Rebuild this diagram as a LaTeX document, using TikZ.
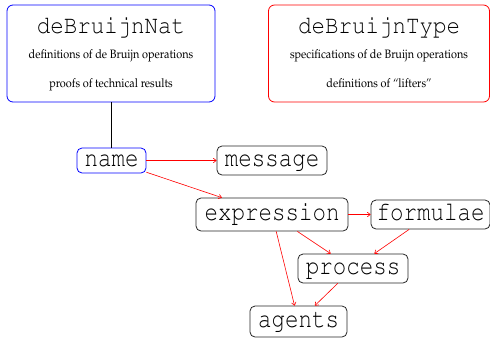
\documentclass[tikz,border=0pt]{standalone}
\usepackage[T1]{fontenc}
\usepackage{mathpazo}
\usepackage{courier}
\usepackage{graphicx}
\usetikzlibrary{arrows.meta}
\newcommand\vst[1]{\scalebox{1}[1.2]{#1}}
\newcommand\sst[1]{\scalebox{1}[1.12]{#1}}
\begin{document}
\begin{tikzpicture}[x=1pt,y=-1pt,
  bigbox/.style={draw,rounded corners=6pt,line width=0.8pt,inner sep=0pt},
  modbox/.style={draw=black!85,rounded corners=5pt,line width=0.8pt,inner sep=0pt,
    font=\fontsize{22.5}{26}\ttfamily,text height=12pt,text depth=0pt},
  title/.style={anchor=base,inner sep=0pt,font=\fontsize{22.5}{26}\ttfamily},
  small/.style={anchor=base,inner sep=0pt,font=\fontsize{10.9}{13}\selectfont},
  dep/.style={draw=red,line width=0.6pt,-{To[length=3.5pt,width=5pt]}}]
\useasboundingbox (0,0) rectangle (490,338);
% top boxes
\node[bigbox,draw=blue,minimum width=208pt,minimum height=97pt] (nat) at (111,53.5) {};
\node[title] (natt) at (111,33) {\sst{deBruijnNat}};
\node[small] (nat1) at (111,58) {\sst{definitions of de Bruijn operations}};
\node[small] (nat2) at (111,87) {\sst{proofs of technical results}};
\node[bigbox,draw=red,minimum width=221pt,minimum height=97pt] (typ) at (379,53.5) {};
\node[title] (typt) at (379,33) {\sst{deBruijnType}};
\node[small] (typ1) at (379,58) {\sst{specifications of de Bruijn operations}};
\node[small] (typ2) at (379,87) {\sst{definitions of ``lifters''}};
% modules
\node[modbox,draw=blue,minimum width=69pt,minimum height=25pt] (name) at (111.5,160.5) {\vst{name}};
\node[modbox,minimum width=110pt,minimum height=29pt] (message) at (272,160.5) {\vst{message}};
\node[modbox,minimum width=152pt,minimum height=33pt] (expression) at (272,214.5) {\vst{expression}};
\node[modbox,minimum width=119pt,minimum height=29pt] (formulae) at (430.5,214.5) {\vst{formulae}};
\node[modbox,minimum width=110pt,minimum height=29pt] (process) at (353,268.5) {\vst{process}};
\node[modbox,minimum width=97pt,minimum height=31pt] (agents) at (298.5,321.5) {\vst{agents}};
% connectors
\draw[line width=0.6pt] (nat.south) -- (nat.south |- name.north);
\draw[dep] (name) -- (message);
\draw[dep] (name) -- (expression);
\draw[dep] (expression) -- (formulae);
\draw[dep] (expression) -- (process);
\draw[dep] (formulae) -- (process);
\draw[dep] (expression) -- (agents);
\draw[dep] (process) -- (agents);
\end{tikzpicture}
\end{document}
